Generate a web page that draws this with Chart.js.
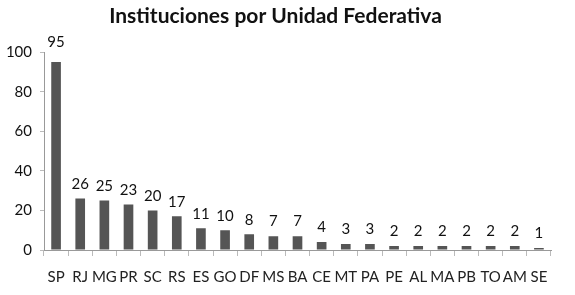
<!DOCTYPE html>
<html>
<head>
<meta charset="utf-8">
<script src="https://cdn.jsdelivr.net/npm/chart.js@4"></script>
<style>
  html, body { margin: 0; padding: 0; background: #fff; }
  #wrap { width: 575px; height: 295px; }
</style>
</head>
<body>
<div id="wrap"><canvas id="myChart"></canvas></div>
<script>
// Datos
var estados = ["SP", "RJ", "MG", "PR", "SC", "RS", "ES", "GO", "DF", "MS", "BA", "CE", "MT", "PA", "PE", "AL", "MA", "PB", "TO", "AM", "SE"];
var instituciones = [95, 26, 25, 23, 20, 17, 11, 10, 8, 7, 7, 4, 3, 3, 2, 2, 2, 2, 2, 2, 1];
var yTicks = [0, 20, 40, 60, 80, 100];

// etiqueta con el valor encima de cada barra
var valueLabels = {
  id: 'valueLabels',
  afterDatasetsDraw: function (chart) {
    var ctx = chart.ctx;
    var meta = chart.getDatasetMeta(0);
    ctx.save();
    ctx.font = '15px Lato';
    ctx.fillStyle = '#111';
    ctx.textAlign = 'center';
    ctx.textBaseline = 'bottom';
    meta.data.forEach(function (bar, i) {
      var off = i === 0 ? 12 : 7;
      ctx.fillText(chart.data.datasets[0].data[i], bar.x, bar.y - off);
    });
    ctx.restore();
  }
};

var ctx = document.getElementById('myChart').getContext('2d');
var myChart = new Chart(ctx, {
  type: 'bar',
  data: {
    labels: estados,
    datasets: [{
      data: instituciones,
      backgroundColor: '#555555',
      barPercentage: 0.4,
      categoryPercentage: 1
    }]
  },
  options: {
    responsive: true,
    maintainAspectRatio: false,
    animation: false,
    layout: { padding: { top: 4, right: 24, bottom: 0, left: 0 } },
    plugins: {
      legend: { display: false },
      tooltip: { enabled: false },
      title: {
        display: true,
        text: 'Instituciones por Unidad Federativa',
        color: '#111',
        font: { family: 'Lato', size: 21, weight: 'bold' },
        padding: { top: 0, bottom: 23 }
      }
    },
    scales: {
      x: {
        afterFit: function (s) { s.height = 45; },
        grid: {
          display: true,
          offset: true,
          drawOnChartArea: false,
          tickLength: 6,
          color: '#bbbbbb'
        },
        border: { color: '#999999' },
        ticks: {
          color: '#222',
          font: { family: 'Lato', size: 15 },
          padding: 12,
          maxRotation: 0,
          autoSkip: false
        }
      },
      y: {
        min: 0,
        max: 100,
        afterFit: function (s) { s.width = 44; },
        afterBuildTicks: function (s) {
          s.ticks = yTicks.map(function (v) { return { value: v }; });
        },
        grid: {
          display: true,
          drawOnChartArea: false,
          tickLength: 4,
          color: '#bbbbbb'
        },
        border: { color: '#999999' },
        ticks: {
          color: '#111',
          font: { family: 'Lato', size: 15 },
          padding: 8
        }
      }
    }
  },
  plugins: [valueLabels]
});
</script>
</body>
</html>
